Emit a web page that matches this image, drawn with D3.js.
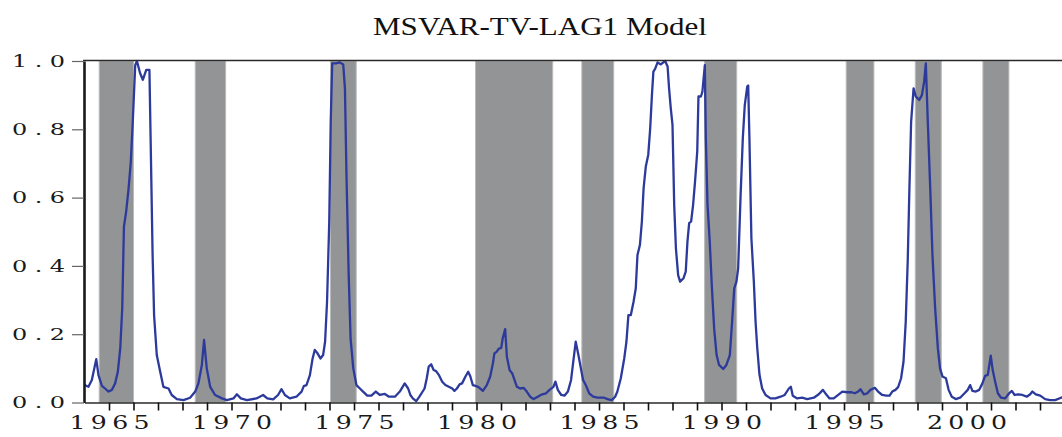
<!DOCTYPE html>
<html>
  <head>
    <meta charset="utf-8" />
    <script src="https://d3js.org/d3.v7.min.js"></script>
    <style>
      body { margin: 0; background: #fff; }
    </style>
  </head>
  <body>
    <div id="my_dataviz"></div>
    <script>
      // recession periods (decimal years)
      var bandStart = [1964.6, 1968.52, 1974.04, 1979.96, 1984.3, 1989.31, 1995.09, 1997.91, 2000.67];
      var bandEnd = [1966.0, 1969.76, 1975.09, 1983.11, 1985.6, 1990.62, 1996.22, 1998.97, 2001.73];

      // regime probability
      var dates = [
        1964.0, 1964.07, 1964.16, 1964.30, 1964.48, 1964.57, 1964.71, 1964.84, 1964.98, 1965.12,
        1965.25, 1965.36, 1965.46, 1965.54, 1965.61, 1965.70, 1965.80, 1965.89, 1965.97, 1966.07,
        1966.14, 1966.27, 1966.38, 1966.52, 1966.65, 1966.71, 1966.78, 1966.84, 1966.95, 1967.09,
        1967.22, 1967.43, 1967.56, 1967.77, 1968.04, 1968.31, 1968.52, 1968.65, 1968.79, 1968.88,
        1968.99, 1969.13, 1969.33, 1969.61, 1969.81, 1970.08, 1970.22, 1970.38, 1970.63, 1971.02,
        1971.29, 1971.46, 1971.70, 1971.90, 1972.04, 1972.18, 1972.38, 1972.65, 1972.86, 1972.95,
        1973.06, 1973.20, 1973.31, 1973.40, 1973.51, 1973.63, 1973.74, 1973.82, 1973.90, 1973.99,
        1974.05, 1974.11, 1974.26, 1974.42, 1974.56, 1974.63, 1974.69, 1974.78, 1974.86, 1974.97,
        1975.10, 1975.24, 1975.37, 1975.54, 1975.71, 1975.89, 1976.05, 1976.26, 1976.43, 1976.67,
        1976.87, 1977.07, 1977.21, 1977.30, 1977.40, 1977.54, 1977.67, 1977.88, 1977.97, 1978.05,
        1978.15, 1978.25, 1978.35, 1978.46, 1978.60, 1978.73, 1978.87, 1979.01, 1979.10, 1979.20,
        1979.31, 1979.41, 1979.55, 1979.66, 1979.75, 1979.85, 1979.99, 1980.12, 1980.26, 1980.42,
        1980.56, 1980.67, 1980.73, 1980.83, 1980.90, 1981.01, 1981.07, 1981.17, 1981.24, 1981.35,
        1981.46, 1981.55, 1981.65, 1981.78, 1981.92, 1982.05, 1982.19, 1982.33, 1982.50, 1982.68,
        1982.84, 1982.98, 1983.14, 1983.22, 1983.32, 1983.46, 1983.59, 1983.73, 1983.86, 1983.95,
        1984.05, 1984.16, 1984.26, 1984.35, 1984.46, 1984.60, 1984.76, 1984.94, 1985.21, 1985.35,
        1985.52, 1985.66, 1985.75, 1985.89, 1986.03, 1986.12, 1986.20, 1986.30, 1986.41, 1986.50,
        1986.57, 1986.67, 1986.75, 1986.82, 1986.91, 1987.01, 1987.09, 1987.16, 1987.22, 1987.29,
        1987.39, 1987.52, 1987.70, 1987.80, 1987.86, 1987.93, 1988.00, 1988.07, 1988.14, 1988.23,
        1988.31, 1988.45, 1988.54, 1988.61, 1988.68, 1988.76, 1988.84, 1988.92, 1989.01, 1989.06,
        1989.16, 1989.22, 1989.32, 1989.36, 1989.43, 1989.52, 1989.61, 1989.70, 1989.80, 1989.90,
        1990.07, 1990.20, 1990.34, 1990.45, 1990.52, 1990.61, 1990.68, 1990.78, 1990.87, 1990.95,
        1991.05, 1991.09, 1991.14, 1991.22, 1991.32, 1991.39, 1991.46, 1991.55, 1991.66, 1991.80,
        1992.00, 1992.20, 1992.41, 1992.58, 1992.75, 1992.83, 1992.91, 1993.09, 1993.29, 1993.50,
        1993.77, 1993.97, 1994.14, 1994.27, 1994.41, 1994.58, 1994.79, 1994.93, 1995.13, 1995.31,
        1995.44, 1995.58, 1995.67, 1995.81, 1995.95, 1996.08, 1996.26, 1996.39, 1996.56, 1996.72,
        1996.86, 1996.97, 1997.10, 1997.21, 1997.33, 1997.43, 1997.52, 1997.60, 1997.67, 1997.74,
        1997.84, 1997.93, 1998.07, 1998.18, 1998.27, 1998.34, 1998.42, 1998.52, 1998.61, 1998.72,
        1998.83, 1998.92, 1999.02, 1999.16, 1999.27, 1999.40, 1999.56, 1999.74, 1999.92, 2000.05,
        2000.15, 2000.24, 2000.38, 2000.52, 2000.65, 2000.76, 2000.87, 2000.99, 2001.07, 2001.17,
        2001.28, 2001.41, 2001.58, 2001.74, 2001.85, 2001.96, 2002.12, 2002.28, 2002.46, 2002.60,
        2002.69, 2002.83, 2003.01, 2003.21, 2003.41, 2003.62, 2003.86, 2004.0
      ];
      var probs = [
        0.052, 0.049, 0.046, 0.066, 0.127, 0.080, 0.049, 0.041, 0.032, 0.037,
        0.056, 0.090, 0.159, 0.276, 0.515, 0.559, 0.627, 0.705, 0.822, 0.988,
        1.000, 0.964, 0.945, 0.974, 0.974, 0.725, 0.432, 0.256, 0.139, 0.090,
        0.046, 0.041, 0.022, 0.010, 0.007, 0.014, 0.032, 0.056, 0.110, 0.183,
        0.100, 0.046, 0.022, 0.012, 0.007, 0.012, 0.024, 0.012, 0.007, 0.012,
        0.022, 0.012, 0.009, 0.022, 0.039, 0.022, 0.012, 0.017, 0.032, 0.048,
        0.051, 0.080, 0.129, 0.154, 0.144, 0.129, 0.139, 0.178, 0.295, 0.530,
        0.822, 0.993, 0.993, 0.996, 0.990, 0.920, 0.676, 0.383, 0.188, 0.100,
        0.051, 0.041, 0.032, 0.020, 0.020, 0.032, 0.022, 0.025, 0.017, 0.017,
        0.032, 0.056, 0.041, 0.022, 0.012, 0.004, 0.017, 0.041, 0.071, 0.105,
        0.112, 0.095, 0.092, 0.081, 0.061, 0.051, 0.046, 0.041, 0.034, 0.041,
        0.053, 0.056, 0.076, 0.090, 0.076, 0.051, 0.048, 0.043, 0.034, 0.051,
        0.076, 0.115, 0.144, 0.149, 0.157, 0.160, 0.188, 0.215, 0.134, 0.095,
        0.085, 0.066, 0.046, 0.041, 0.043, 0.032, 0.017, 0.010, 0.017, 0.024,
        0.027, 0.037, 0.046, 0.061, 0.037, 0.022, 0.020, 0.032, 0.066, 0.120,
        0.178, 0.139, 0.100, 0.066, 0.051, 0.027, 0.017, 0.014, 0.014, 0.010,
        0.007, 0.017, 0.032, 0.071, 0.129, 0.178, 0.256, 0.256, 0.295, 0.334,
        0.432, 0.461, 0.530, 0.627, 0.691, 0.725, 0.803, 0.900, 0.969, 0.977,
        0.996, 0.990, 1.000, 0.984, 0.920, 0.861, 0.813, 0.578, 0.451, 0.373,
        0.354, 0.364, 0.383, 0.471, 0.525, 0.530, 0.578, 0.647, 0.735, 0.896,
        0.896, 0.910, 0.988, 0.774, 0.578, 0.471, 0.334, 0.217, 0.139, 0.110,
        0.098, 0.110, 0.139, 0.256, 0.334, 0.354, 0.393, 0.608, 0.774, 0.871,
        0.925, 0.928, 0.774, 0.481, 0.354, 0.237, 0.159, 0.081, 0.041, 0.022,
        0.012, 0.012, 0.017, 0.022, 0.041, 0.046, 0.020, 0.012, 0.014, 0.010,
        0.014, 0.024, 0.037, 0.024, 0.012, 0.012, 0.024, 0.032, 0.030, 0.030,
        0.027, 0.032, 0.039, 0.024, 0.027, 0.037, 0.043, 0.032, 0.022, 0.020,
        0.020, 0.032, 0.037, 0.045, 0.071, 0.120, 0.237, 0.412, 0.627, 0.822,
        0.920, 0.896, 0.886, 0.900, 0.939, 0.993, 0.822, 0.627, 0.432, 0.276,
        0.159, 0.100, 0.076, 0.071, 0.037, 0.017, 0.010, 0.014, 0.027, 0.037,
        0.051, 0.034, 0.032, 0.037, 0.056, 0.078, 0.081, 0.137, 0.095, 0.061,
        0.027, 0.014, 0.012, 0.027, 0.034, 0.022, 0.024, 0.022, 0.017, 0.024,
        0.032, 0.024, 0.020, 0.010, 0.007, 0.007, 0.014, 0.016
      ];

      var yTicks = [0, 0.2, 0.4, 0.6, 0.8, 1.0];
      var xLabels = [1965, 1970, 1975, 1980, 1985, 1990, 1995, 2000];

      var width = 1062, height = 437;

      var svg = d3
        .select("#my_dataviz")
        .append("svg")
        .attr("width", width)
        .attr("height", height);

      var x = d3.scaleLinear().domain([1964, 2004]).range([84.5, 1064.5]);
      var y = d3.scaleLinear().domain([0, 1]).range([402.5, 61]);

      // title
      svg
        .append("text")
        .attr("x", 540)
        .attr("y", 35)
        .attr("text-anchor", "middle")
        .attr("textLength", 334)
        .attr("lengthAdjust", "spacingAndGlyphs")
        .style("font-family", "Liberation Serif, serif")
        .style("font-size", "25px")
        .style("fill", "#111")
        .text("MSVAR-TV-LAG1 Model");

      // shaded periods
      svg
        .selectAll(".band")
        .data(d3.range(bandStart.length))
        .enter()
        .append("rect")
        .attr("class", "band")
        .attr("x", function (i) { return x(bandStart[i]); })
        .attr("y", y(1))
        .attr("width", function (i) { return x(bandEnd[i]) - x(bandStart[i]); })
        .attr("height", y(0) - y(1))
        .style("fill", "#939495")
        .style("stroke", "#b9babb")
        .style("stroke-width", 1);

      // the probability line
      var line = d3
        .line()
        .x(function (d, i) { return x(dates[i]); })
        .y(function (d) { return y(d); });

      svg
        .append("path")
        .datum(probs)
        .attr("d", line)
        .style("fill", "none")
        .style("stroke", "#2c3a9c")
        .style("stroke-width", 2.3)
        .style("stroke-linejoin", "round");

      // top frame line
      svg
        .append("line")
        .attr("x1", 83)
        .attr("x2", width)
        .attr("y1", 60.5)
        .attr("y2", 60.5)
        .style("stroke", "#2a2a2a")
        .style("stroke-width", 1.6);

      // x axis, a tick every year and a label every five
      var sx = 1.4, sy = 1.5; // glyphs in the original are wide
      var xAxis = svg
        .append("g")
        .attr("transform", "translate(0," + y(0) + ")")
        .call(
          d3
            .axisBottom(x)
            .tickValues(d3.range(1965, 2004))
            .tickSize(8)
            .tickSizeOuter(0)
            .tickPadding(6)
            .tickFormat(function (d) { return xLabels.indexOf(d) >= 0 ? d : ""; })
        );
      xAxis.select(".domain").style("stroke", "#2a2a2a").style("stroke-width", 1.6);
      xAxis.selectAll(".tick line").style("stroke", "#111").style("stroke-width", 1.6);
      xAxis
        .selectAll(".tick text")
        .filter(function (d) { return xLabels.indexOf(d) >= 0; })
        .attr("transform", "scale(" + sx + ",1)")
        .attr("textLength", 80 / sx)
        .attr("lengthAdjust", "spacing")
        .style("font-family", "DejaVu Serif, serif")
        .style("font-size", "18px")
        .style("fill", "#1a1a1a");

      // y axis
      var yAxis = svg
        .append("g")
        .attr("transform", "translate(84,0)")
        .call(
          d3
            .axisLeft(y)
            .tickValues(yTicks)
            .tickSize(12)
            .tickSizeOuter(0)
            .tickPadding(7)
            .tickFormat(d3.format(".1f"))
        );
      yAxis.select(".domain").style("stroke", "#1a1a1a").style("stroke-width", 2.6);
      yAxis.selectAll(".tick line").style("stroke", "#666").style("stroke-width", 1.2);
      yAxis
        .selectAll(".tick text")
        .attr("x", -19 / sy)
        .attr("transform", "scale(" + sy + ",1)")
        .attr("textLength", 53 / sy)
        .attr("lengthAdjust", "spacing")
        .style("font-family", "DejaVu Serif, serif")
        .style("font-size", "16px")
        .style("fill", "#1a1a1a");
    </script>
  </body>
</html>
